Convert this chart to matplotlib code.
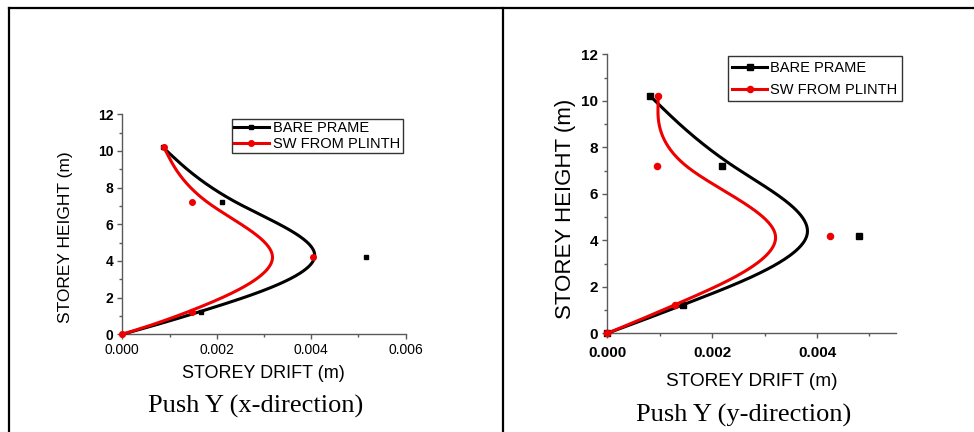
import numpy as np
import matplotlib
matplotlib.use("Agg")
import matplotlib.pyplot as plt
from matplotlib.lines import Line2D
from matplotlib.ticker import MultipleLocator, FormatStrFormatter

# ---------------- data ----------------
heights = [0, 1.2, 4.2, 7.2, 10.2]
# Push Y (x-direction)
x_dir_bare = [0.0, 0.00167, 0.00516, 0.00211, 0.00086]
x_dir_sw = [0.0, 0.00148, 0.00403, 0.00148, 0.00088]
# Push Y (y-direction)
y_dir_bare = [0.0, 0.00144, 0.00480, 0.00219, 0.00082]
y_dir_sw = [0.0, 0.00129, 0.00425, 0.00095, 0.00097]

series_names = ["BARE PRAME", "SW FROM PLINTH"]
captions = ["Push Y (x-direction)", "Push Y (y-direction)"]
xlabel = "STOREY DRIFT (m)"
ylabel = "STOREY HEIGHT (m)"

SANS = "Liberation Sans"
SERIF = "Liberation Serif"
RED = "#ee0000"


def bspline(px, py, n=80):
    """Uniform cubic B-spline with tripled end points (Origin 'B-Spline' connect)."""
    P = np.column_stack([px, py]).astype(float)
    P = np.vstack([P[0], P[0], P, P[-1], P[-1]])
    M = np.array([[-1, 3, -3, 1], [3, -6, 3, 0], [-3, 0, 3, 0], [1, 4, 1, 0]]) / 6.0
    out = []
    for i in range(len(P) - 3):
        G = P[i:i + 4]
        t = np.linspace(0, 1, n)
        T = np.column_stack([t ** 3, t ** 2, t, np.ones_like(t)])
        out.append(T @ M @ G)
    C = np.vstack(out)
    return C[:, 0], C[:, 1]


W, H = 974, 432
fig = plt.figure(figsize=(W / 100, H / 100), dpi=100)


def fx(px):
    return px / W


def fy(py):
    return 1 - py / H


# table border lines
lw_b = 1.6
fig.add_artist(Line2D([fx(8.5), fx(974)], [fy(7.5), fy(7.5)], color="black", lw=lw_b, transform=fig.transFigure))
fig.add_artist(Line2D([fx(9), fx(9)], [fy(7.5), fy(432)], color="black", lw=lw_b, transform=fig.transFigure))
fig.add_artist(Line2D([fx(502.5), fx(502.5)], [fy(7.5), fy(432)], color="black", lw=lw_b, transform=fig.transFigure))

spine_col = "#5a5a5a"


def make_axes(rect_px, xmax, xticks):
    x0, x1, ytop, ybot = rect_px
    ax = fig.add_axes([fx(x0), fy(ybot), fx(x1) - fx(x0), fy(ytop) - fy(ybot)])
    ax.set_xlim(0, xmax)
    ax.set_ylim(0, 12)
    for s in ["top", "right"]:
        ax.spines[s].set_visible(False)
    for s in ["left", "bottom"]:
        ax.spines[s].set_color(spine_col)
        ax.spines[s].set_linewidth(1.0)
    ax.set_xticks(xticks)
    ax.set_yticks(np.arange(0, 13, 2))
    ax.xaxis.set_minor_locator(MultipleLocator(0.001))
    ax.yaxis.set_minor_locator(MultipleLocator(1))
    ax.xaxis.set_major_formatter(FormatStrFormatter("%.3f"))
    ax.yaxis.set_major_formatter(FormatStrFormatter("%d"))
    ax.tick_params(which="major", direction="out", length=3.5, width=1.0, color=spine_col, pad=3)
    ax.tick_params(which="minor", direction="out", length=2, width=1.0, color=spine_col)
    ax.patch.set_alpha(0)
    return ax


def draw_series(ax, bare, sw, ms_sq, ms_ci):
    bx, by = bspline(bare, heights)
    sx, sy = bspline(sw, heights)
    ax.plot(bx, by, color="black", lw=2.2, solid_capstyle="round", zorder=3, clip_on=False)
    ax.plot(bare, heights, ls="none", marker="s", ms=ms_sq, color="black", zorder=4, clip_on=False)
    ax.plot(sx, sy, color=RED, lw=2.2, solid_capstyle="round", zorder=5, clip_on=False)
    ax.plot(sw, heights, ls="none", marker="o", ms=ms_ci, color=RED, zorder=6, clip_on=False)


def add_legend(ax, box_px, size, labelspacing, borderpad, ms_sq, ms_ci, textpad):
    x0, y0 = box_px
    handles = [
        Line2D([], [], color="black", lw=2.2, marker="s", ms=ms_sq),
        Line2D([], [], color=RED, lw=2.2, marker="o", ms=ms_ci),
    ]
    leg = ax.legend(handles, series_names, loc="upper left",
                    bbox_to_anchor=(fx(x0), fy(y0)), bbox_transform=fig.transFigure,
                    borderaxespad=0, frameon=True, fancybox=False, numpoints=1,
                    handlelength=2.4, handletextpad=textpad, borderpad=borderpad,
                    labelspacing=labelspacing, prop=dict(family=SANS, size=size))
    leg.get_frame().set_edgecolor("black")
    leg.get_frame().set_linewidth(1.0)
    return leg


# ---------- left panel ----------
axL = make_axes((122.3, 405.7, 114.3, 334.3), 0.006, [0, 0.002, 0.004, 0.006])
draw_series(axL, x_dir_bare, x_dir_sw, 3.4, 4.0)
for lab in axL.get_yticklabels():
    lab.set_fontfamily(SANS); lab.set_fontsize(10); lab.set_fontweight("bold")
for lab in axL.get_xticklabels():
    lab.set_fontfamily(SANS); lab.set_fontsize(10)
add_legend(axL, (231.7, 119.3), 10.5, 0.1, 0.15, 3.4, 4.0, 0.3)
fig.text(fx(65.7), fy(236.7), ylabel, rotation=90, ha="center", va="center", family=SANS, size=12.5)
fig.text(fx(263.3), fy(374), xlabel, ha="center", va="center", family=SANS, size=13)
fig.text(fx(255.8), fy(406.7), captions[0], ha="center", va="center", family=SERIF, size=19)

# ---------- right panel ----------
axR = make_axes((607.3, 895.7, 54.3, 333.3), 0.0055, [0, 0.002, 0.004])
draw_series(axR, y_dir_bare, y_dir_sw, 3.8, 4.4)
for lab in axR.get_yticklabels():
    lab.set_fontfamily(SANS); lab.set_fontsize(11); lab.set_fontweight("bold")
for lab in axR.get_xticklabels():
    lab.set_fontfamily(SANS); lab.set_fontsize(11); lab.set_fontweight("bold")
axR.tick_params(axis="x", which="major", pad=6)
add_legend(axR, (728, 56.3), 10.5, 0.55, 0.3, 3.8, 4.4, 0.2)
fig.text(fx(565), fy(209), ylabel, rotation=90, ha="center", va="center", family=SANS, size=16)
fig.text(fx(752), fy(382), xlabel, ha="center", va="center", family=SANS, size=13.7)
fig.text(fx(743.3), fy(415), captions[1], ha="center", va="center", family=SERIF, size=19)

fig.savefig("out.png", dpi=100)
